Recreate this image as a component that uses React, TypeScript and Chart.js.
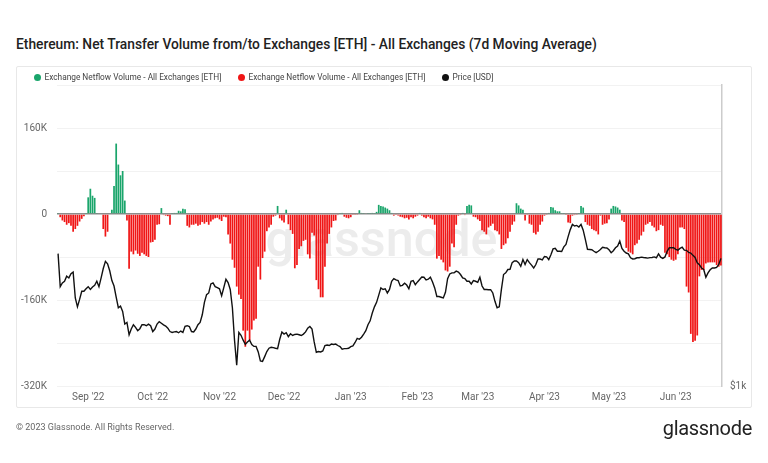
import React, { useEffect, useRef } from 'react';
import { Chart, registerables } from 'chart.js';

Chart.register(...registerables);

// ---- Data (daily, starting 2022-08-18) ----
const START_YEAR = 2022;
const START_MONTH = 7; // August (0-based)
const START_DAY = 18;
const MONTH_NAMES = ['Jan', 'Feb', 'Mar', 'Apr', 'May', 'Jun', 'Jul', 'Aug', 'Sep', 'Oct', 'Nov', 'Dec'];

// Exchange netflow, 7d MA, thousands of ETH
const netflowK = [
  2, -6, -12, -15, -20, -17, -22, -33, -28, -22,
  -14, -9, -4, 2, 31, 47, 34, 30, 1, 0,
  0, -28, -42, -33, 0, 8, 52, 131, 92, 72,
  80, 25, -12, -102, -70, -75, -68, -74, -78, -72,
  -75, -78, -80, -53, -52, -48, -20, -19, 11, -2,
  -3, -4, -20, 1, 2, 2, 6, 5, 10, 9,
  -22, -25, -20, -20, -18, -22, -20, -15, -18, -15,
  -20, -14, -10, -8, -7, -10, -13, -5, -6, -38,
  -55, -85, -100, -135, -150, -158, -217, -247, -217, -235,
  -215, -198, -195, -98, -122, -82, -70, -32, -25, -20,
  -5, -3, 15, -8, -12, -16, 8, -19, -30, -37,
  -101, -95, -65, -60, -50, -48, -75, -83, -35, -40,
  -123, -140, -155, -155, -98, -55, -37, -25, -13, -12,
  -2, 2, 2, -5, -7, -8, -6, -2, -1, -1,
  7, 2, 1, 0, 1, 1, 2, 1, 4, 17,
  15, 14, 12, 10, 7, 2, -3, -2, -3, -5,
  -6, -8, -7, -10, -6, -8, -5, -3, 2, -3,
  -6, -8, -5, -8, -10, -20, -83, -78, -85, -90,
  -105, -107, -98, -55, -62, -20, -3, -2, 2, -2,
  15, 17, 16, -5, -6, -10, -13, -30, -33, -38,
  -25, -22, -18, -30, -32, -38, -65, -58, -55, -45,
  -33, -20, -14, 20, 16, 10, 8, -12, -2, -18,
  -20, -35, -38, -33, -20, -14, -3, -1, 2, 13,
  12, 7, 5, 5, 1, 1, -2, -16, -17, -3,
  -2, -1, 2, 15, 12, -15, -20, -22, -28, -30,
  -32, -38, -3, -20, -18, -17, -10, 10, 15, 14,
  12, 8, -12, -15, -63, -70, -72, -75, -58, -55,
  -48, -40, -33, -20, -18, -15, -22, -25, -32, -30,
  -20, -22, -72, -75, -80, -85, -87, -85, -75, -25,
  -25, -28, -135, -146, -223, -238, -236, -226, -116, -104,
  -104, -92, -90, -90, -90, -90, -95, -98, -96,
];

// ETH price, USD
const priceUSD = [
  1840, 1580, 1608, 1620, 1658, 1645, 1678, 1690, 1500, 1440,
  1490, 1547, 1547, 1565, 1580, 1560, 1578, 1590, 1620, 1580,
  1645, 1718, 1775, 1755, 1700, 1625, 1585, 1505, 1434, 1445,
  1410, 1330, 1340, 1266, 1300, 1326, 1310, 1290, 1302, 1326,
  1326, 1320, 1330, 1320, 1285, 1300, 1330, 1345, 1335, 1325,
  1318, 1305, 1285, 1280, 1283, 1285, 1278, 1288, 1280, 1316,
  1320, 1315, 1285, 1283, 1300, 1326, 1340, 1388, 1470, 1523,
  1535, 1600, 1608, 1580, 1573, 1565, 1515, 1573, 1635, 1610,
  1560, 1434, 1233, 1100, 1280, 1263, 1235, 1212, 1225, 1235,
  1210, 1200, 1200, 1170, 1123, 1120, 1145, 1172, 1190, 1195,
  1193, 1190, 1188, 1240, 1282, 1270, 1278, 1255, 1272, 1262,
  1268, 1270, 1266, 1262, 1270, 1283, 1305, 1315, 1300, 1225,
  1168, 1172, 1170, 1175, 1205, 1208, 1205, 1213, 1211, 1213,
  1205, 1199, 1185, 1188, 1188, 1190, 1199, 1203, 1222, 1245,
  1240, 1252, 1270, 1290, 1326, 1350, 1400, 1440, 1470, 1520,
  1571, 1560, 1565, 1535, 1560, 1620, 1640, 1630, 1625, 1585,
  1590, 1605, 1592, 1565, 1620, 1625, 1595, 1615, 1633, 1652,
  1650, 1630, 1635, 1650, 1615, 1571, 1510, 1510, 1505, 1500,
  1540, 1640, 1675, 1684, 1684, 1697, 1690, 1671, 1645, 1640,
  1620, 1620, 1600, 1625, 1620, 1612, 1650, 1585, 1560, 1560,
  1558, 1558, 1535, 1477, 1434, 1440, 1560, 1671, 1684, 1710,
  1712, 1765, 1778, 1778, 1765, 1735, 1790, 1750, 1790, 1765,
  1745, 1722, 1750, 1795, 1795, 1788, 1816, 1812, 1790, 1830,
  1880, 1885, 1860, 1860, 1858, 1898, 1920, 1990, 2055, 2105,
  2090, 2095, 2080, 2105, 2050, 1965, 1876, 1875, 1873, 1860,
  1848, 1860, 1875, 1895, 1890, 1888, 1873, 1848, 1865, 1890,
  1905, 1950, 1885, 1860, 1845, 1838, 1805, 1795, 1797, 1805,
  1805, 1810, 1807, 1805, 1802, 1806, 1807, 1812, 1805, 1838,
  1810, 1800, 1812, 1860, 1890, 1890, 1890, 1876, 1870, 1885,
  1895, 1870, 1868, 1850, 1845, 1825, 1808, 1763, 1748, 1722,
  1710, 1650, 1684, 1708, 1722, 1722, 1727, 1750, 1800,
];

const leftTickValuesK = [160, 0, -160, -320];

const GREEN = '#1aa56b';
const RED = '#f01616';
const FONT = 'Roboto, "Noto Sans", sans-serif';

const dates: Date[] = netflowK.map((_, i) => new Date(Date.UTC(START_YEAR, START_MONTH, START_DAY + i)));
const labels = dates.map((d) => d.toISOString().slice(0, 10));

const watermarkPlugin = {
  id: 'watermark',
  beforeDatasetsDraw(chart: any) {
    const { ctx, chartArea } = chart;
    ctx.save();
    const text = 'glassnode';
    const targetWidth = 232;
    ctx.font = `500 60px ${FONT}`;
    const w = ctx.measureText(text).width;
    const size = (60 * targetWidth) / w;
    ctx.font = `500 ${size}px ${FONT}`;
    ctx.fillStyle = '#ececec';
    ctx.textAlign = 'center';
    ctx.textBaseline = 'alphabetic';
    const cx = (chartArea.left + chartArea.right) / 2;
    ctx.fillText(text, cx - 8, 256);
    ctx.restore();
  },
};

function ChartCanvas() {
  const ref = useRef<HTMLCanvasElement | null>(null);
  useEffect(() => {
    if (!ref.current) return;
    const pos = netflowK.map((v) => (v > 0 ? v * 1000 : null));
    const neg = netflowK.map((v) => (v < 0 ? v * 1000 : null));
    const chart = new Chart(ref.current, {
      type: 'bar',
      data: {
        labels,
        datasets: [
          {
            type: 'line',
            label: 'Price [USD]',
            data: priceUSD,
            yAxisID: 'y2',
            borderColor: '#111111',
            borderWidth: 1.4,
            pointRadius: 0,
            tension: 0,
            order: 0,
          } as any,
          {
            type: 'bar',
            label: 'Exchange Netflow Volume - All Exchanges [ETH]',
            data: pos,
            yAxisID: 'y',
            backgroundColor: GREEN,
            grouped: false,
            barPercentage: 0.8,
            categoryPercentage: 1,
            order: 1,
          } as any,
          {
            type: 'bar',
            label: 'Exchange Netflow Volume - All Exchanges [ETH]',
            data: neg,
            yAxisID: 'y',
            backgroundColor: RED,
            grouped: false,
            barPercentage: 0.8,
            categoryPercentage: 1,
            order: 1,
          } as any,
        ],
      },
      options: {
        animation: false,
        responsive: false,
        maintainAspectRatio: false,
        layout: { padding: { top: 85, bottom: 55, left: 0, right: 0 } },
        plugins: { legend: { display: false }, title: { display: false }, tooltip: { enabled: false } },
        scales: {
          x: {
            type: 'category',
            offset: true,
            grid: { display: false, drawTicks: false },
            border: { display: false },
            ticks: {
              autoSkip: false,
              maxRotation: 0,
              minRotation: 0,
              padding: 5,
              color: '#666',
              font: { size: 10, family: FONT },
              callback: (_v: any, i: number) => {
                const d = dates[i];
                if (!d || d.getUTCDate() !== 1) return '';
                return `${MONTH_NAMES[d.getUTCMonth()]} '${String(d.getUTCFullYear()).slice(2)}`;
              },
            },
            afterFit: (s: any) => {
              s.height = 22;
            },
          },
          y: {
            position: 'left',
            min: -320000,
            max: 240000,
            border: { display: false },
            grid: {
              drawTicks: false,
              color: (c: any) => (c.tick && c.tick.value === 0 ? '#8c8c8c' : '#f2f2f2'),
              lineWidth: (c: any) => (c.tick && c.tick.value === 0 ? 1.5 : 1),
            },
            ticks: {
              stepSize: 80000,
              padding: 10,
              color: '#666',
              font: { size: 10, family: FONT },
              callback: (v: any) => {
                const k = Math.round(Number(v) / 1000);
                if (!leftTickValuesK.includes(k)) return '';
                return k === 0 ? '0' : `${k}K`;
              },
            },
            afterFit: (s: any) => {
              s.width = 57;
            },
          },
          y2: {
            type: 'logarithmic',
            position: 'right',
            min: 1000,
            max: 4000,
            grid: { display: false, drawTicks: false },
            border: { display: true, color: '#cccccc', width: 1.5 },
            ticks: {
              padding: 8,
              color: '#666',
              font: { size: 10, family: FONT },
              autoSkip: false,
              callback: (v: any) => (Number(v) === 1000 ? '$1k' : ''),
            },
            afterFit: (s: any) => {
              s.width = 46;
            },
          },
        },
      } as any,
      plugins: [watermarkPlugin],
    });
    return () => chart.destroy();
  }, []);
  return <canvas ref={ref} width={768} height={463} style={{ position: 'absolute', left: 0, top: 0 }} />;
}

function LegendItem({ x, color, text }: { x: number; color: string; text: string }) {
  return (
    <div style={{ position: 'absolute', left: x - 3.5, top: 72, display: 'flex', alignItems: 'center', whiteSpace: 'nowrap' }}>
      <span style={{ width: 7, height: 7, borderRadius: '50%', background: color, display: 'inline-block', marginRight: 4 }} />
      <span style={{ fontFamily: FONT, fontSize: 8.3, color: '#444', lineHeight: '10px' }}>{text}</span>
    </div>
  );
}

export default function App() {
  useEffect(() => {
    document.body.style.margin = '0';
  }, []);
  return (
    <div style={{ position: 'fixed', left: 0, top: 0, width: 768, height: 463, background: '#fff', overflow: 'hidden' }}>
      <div
        style={{
          position: 'absolute',
          left: 16,
          top: 35,
          fontFamily: FONT,
          fontSize: 13.8,
          fontWeight: 500,
          color: '#222',
          whiteSpace: 'nowrap',
          lineHeight: '18px',
        }}
      >
        Ethereum: Net Transfer Volume from/to Exchanges [ETH] - All Exchanges (7d Moving Average)
      </div>
      <div
        style={{
          position: 'absolute',
          left: 16,
          top: 66,
          width: 736,
          height: 342,
          border: '1px solid #e8e8e8',
          boxSizing: 'border-box',
          borderRadius: 2,
        }}
      />
      <ChartCanvas />
      <LegendItem x={37} color={GREEN} text="Exchange Netflow Volume - All Exchanges [ETH]" />
      <LegendItem x={241} color={RED} text="Exchange Netflow Volume - All Exchanges [ETH]" />
      <LegendItem x={445} color="#111" text="Price [USD]" />
      <div style={{ position: 'absolute', left: 16, top: 422, fontFamily: FONT, fontSize: 9, color: '#666', whiteSpace: 'nowrap' }}>
        © 2023 Glassnode. All Rights Reserved.
      </div>
      <div
        style={{
          position: 'absolute',
          right: 16,
          top: 416,
          fontFamily: FONT,
          fontSize: 20,
          fontWeight: 400,
          color: '#222',
          letterSpacing: -0.3,
          whiteSpace: 'nowrap',
        }}
      >
        glassnode
      </div>
    </div>
  );
}
